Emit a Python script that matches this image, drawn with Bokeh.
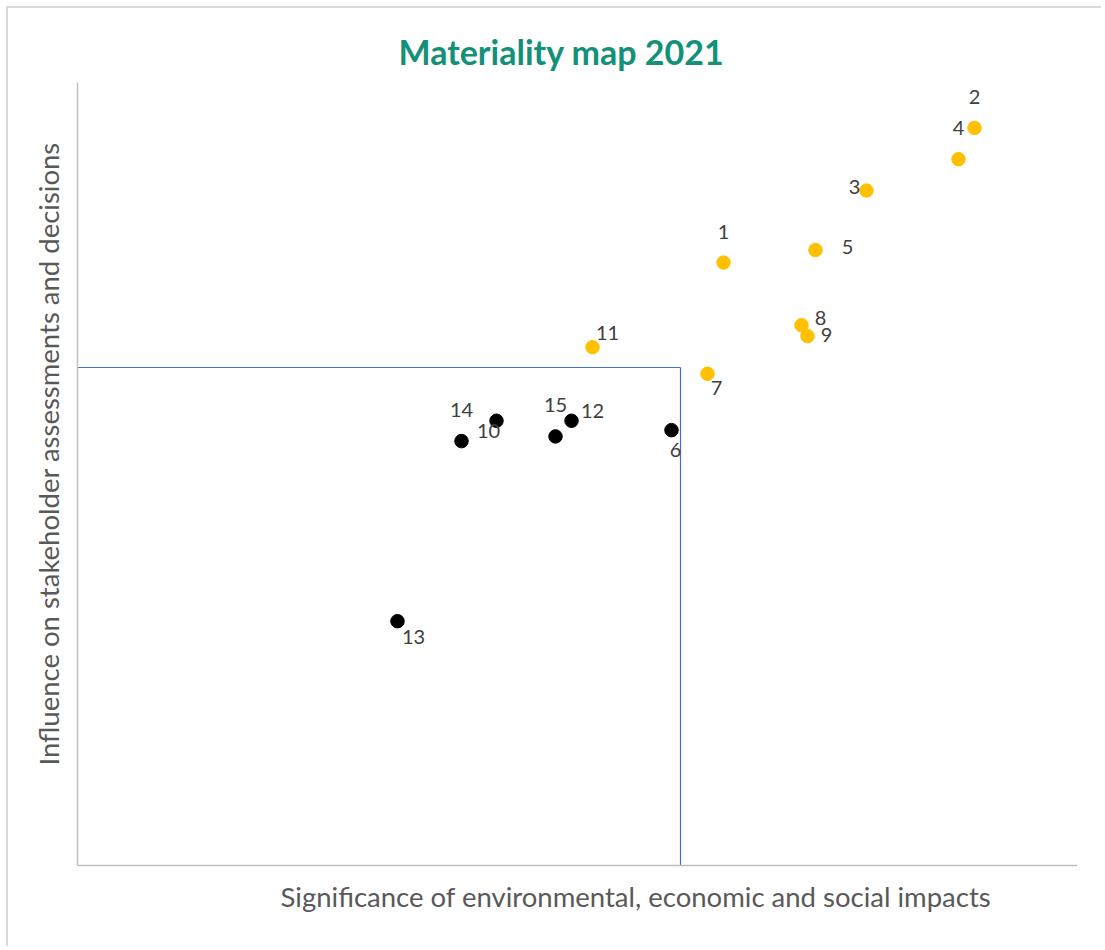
from bokeh.plotting import figure
from bokeh.models import ColumnDataSource, Range1d, FixedTicker, Title
from bokeh.core.properties import value
from bokeh.embed import file_html
from bokeh.resources import INLINE

# ---- data ----
labels = ["1", "2", "3", "4", "5", "7", "8", "9", "11", "6", "10", "12", "13", "14", "15"]
x_sig = [3.23, 4.485, 3.945, 4.405, 3.69, 3.15, 3.62, 3.65, 2.575, 2.97, 2.095, 2.47, 1.60, 1.92, 2.39]
y_inf = [3.85, 4.71, 4.31, 4.51, 3.93, 3.14, 3.45, 3.38, 3.31, 2.78, 2.84, 2.84, 1.56, 2.71, 2.74]
material = [True, True, True, True, True, True, True, True, True, False, False, False, False, False, False]
threshold_x = 3.015
threshold_y = 3.18
title_text = "Materiality map 2021"
x_title = "Significance of environmental, economic and social impacts"
y_title = "Influence on stakeholder assessments and decisions"

# label placement per point (position keyword only)
placement = ["above", "above", "left", "above", "right", "belowright", "right8", "right9", "upright",
             "below", "downleft", "upright2", "belowright13", "above", "above"]
offsets = {
    "above": (0, -31), "left": (-12, -4), "right": (32, -3), "belowright": (9, 14),
    "right8": (19, -7), "right9": (19, -1), "upright": (15, -14), "below": (4, 20),
    "downleft": (-8, 10), "upright2": (21, -10), "belowright13": (16, 16),
}

colors = ["#FFC000" if m else "#000000" for m in material]
src = ColumnDataSource(dict(
    x=x_sig, y=y_inf, lab=labels, c=colors,
    dx=[offsets[p][0] for p in placement],
    dy=[offsets[p][1] for p in placement],
))

FW, FH = 1000, 783  # frame size in px
W, H = 1095, 940
p = figure(width=W, height=H, output_backend="svg", toolbar_location=None,
           x_range=Range1d(0, 5), y_range=Range1d(0, 5),
           min_border_left=69, min_border_right=W - 69 - FW, min_border_top=74,
           min_border_bottom=H - 74 - FH)
p.outline_line_color = None
p.grid.visible = False
p.background_fill_color = "white"
p.border_fill_color = "white"

for ax in (p.xaxis[0], p.yaxis[0]):
    ax.ticker = FixedTicker(ticks=[])
    ax.major_tick_line_color = None
    ax.minor_tick_line_color = None
    ax.major_label_text_font_size = "0px"
    ax.axis_line_color = "#BFBFBF"
    ax.axis_line_width = 1.5
    ax.major_label_standoff = 0

p.title.text = title_text
p.title.align = "left"
p.title.offset = 321
p.title.text_font = "Lato"
p.title.text_font_size = "34px"
p.title.text_font_style = "bold"
p.title.text_color = "#13907A"
p.title.standoff = 22

p.add_layout(Title(text=x_title, align="left", offset=203, text_font="Lato",
                   text_font_size="27.5px", text_font_style="normal", text_color="#595959",
                   standoff=25), "below")
p.add_layout(Title(text=y_title, align="left", offset=100, text_font="Lato",
                   text_font_size="27.5px", text_font_style="normal", text_color="#595959",
                   standoff=26), "left")

# threshold box
p.line([0, threshold_x], [threshold_y, threshold_y], line_color="#4472C4", line_width=1.2)
p.line([threshold_x, threshold_x], [0, threshold_y], line_color="#4472C4", line_width=1.2)

p.scatter("x", "y", source=src, size=13.5, fill_color="c", line_color="c")
p.text("x", "y", text="lab", source=src, x_offset="dx", y_offset="dy",
       text_align="center", text_baseline="middle", text_font=value("Lato"),
       text_font_size="20px", text_color="#404040")

p.styles = {"margin-left": "6px", "margin-top": "6px",
            "border-top": "2px solid #D9D9D9", "border-left": "2px solid #D9D9D9"}

open("out.html", "w").write(file_html(p, INLINE))
